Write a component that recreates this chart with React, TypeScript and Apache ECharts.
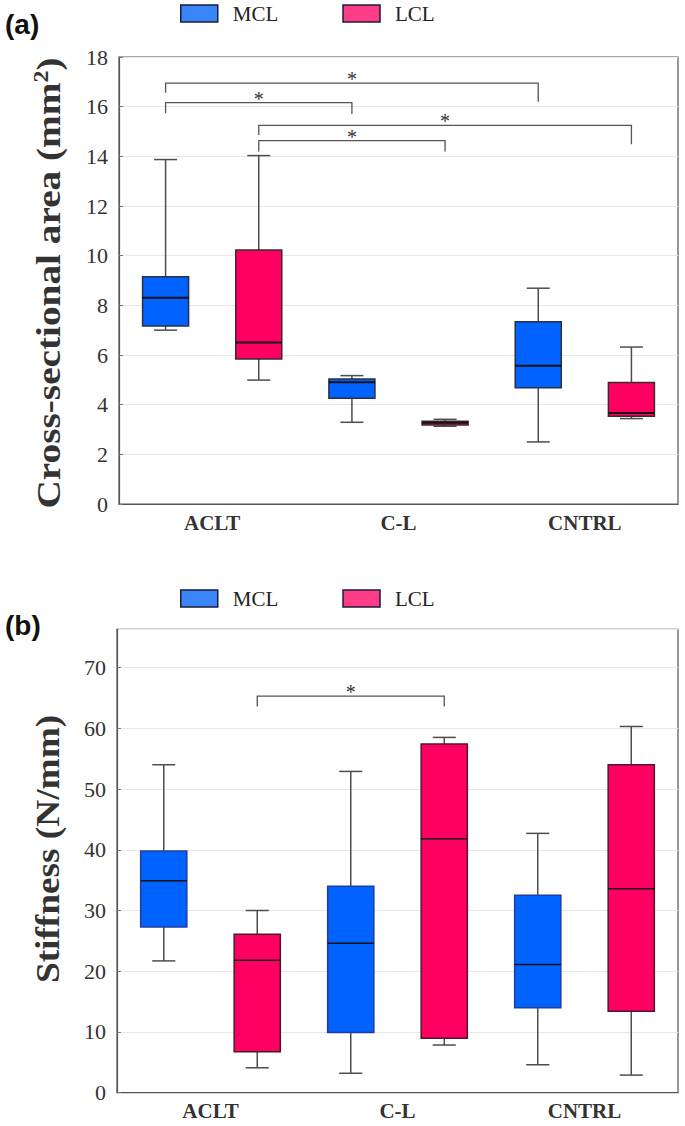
import React, { useEffect, useRef } from "react";
import * as echarts from "echarts";

const categories = ["ACLT", "C-L", "CNTRL"];
// [min, Q1, median, Q3, max]
const csaMCL = [
  [7.0, 7.17, 8.31, 9.15, 13.87],
  [3.29, 4.26, 4.9, 5.03, 5.17],
  [2.5, 4.68, 5.57, 7.34, 8.69],
];
const csaLCL = [
  [4.99, 5.84, 6.5, 10.23, 14.03],
  [3.13, 3.18, 3.27, 3.33, 3.41],
  [3.44, 3.53, 3.66, 4.89, 6.32],
];
const stiffMCL = [
  [21.7, 27.3, 34.9, 39.8, 54.0],
  [3.2, 9.9, 24.6, 34.0, 52.9],
  [4.6, 14.0, 21.1, 32.5, 42.7],
];
const stiffLCL = [
  [4.1, 6.75, 21.8, 26.1, 30.0],
  [7.85, 8.95, 41.8, 57.4, 58.5],
  [2.9, 13.4, 33.6, 54.0, 60.3],
];
// [fromCategory, fromSide(-1 MCL / 1 LCL), toCategory, toSide, lineY, leftLegEndY, rightLegEndY]
const csaBrackets = [
  [0, -1, 2, -1, 16.95, 16.56, 16.2],
  [0, -1, 1, -1, 16.16, 15.73, 15.7],
  [0, 1, 2, 1, 15.25, 14.86, 14.49],
  [0, 1, 1, 1, 14.63, 14.19, 14.19],
];
const stiffBrackets = [[0, 1, 1, 1, 65.3, 63.6, 63.6]];

const csaTicks = { min: 0, max: 18, interval: 2 };
const stiffTicks = { min: 0, max: 76.3, interval: 10 };

const csaTitle = "{a|Cross-sectional area (mm}{s|2}{a|)}";
const stiffTitle = "Stiffness (N/mm)";

const SERIF = "Liberation Serif";
const MCL_FILL = "#0062ff";
const LCL_FILL = "#ff0062";

function boxRender(side: number, stroke: string, medianWidth: number) {
  return (params: any, api: any) => {
    const cat = api.value(0);
    const band = api.size([1, 0])[0];
    const cx = api.coord([cat, 0])[0] + side * band * 0.25;
    const w = band * 0.247;
    const yMin = api.coord([cat, api.value(1)])[1];
    const yQ1 = api.coord([cat, api.value(2)])[1];
    const yMed = api.coord([cat, api.value(3)])[1];
    const yQ3 = api.coord([cat, api.value(4)])[1];
    const yMax = api.coord([cat, api.value(5)])[1];
    const fill = api.visual("color");
    const ws = { stroke: "#4d4d4d", lineWidth: 1.5 };
    return {
      type: "group",
      children: [
        { type: "line", shape: { x1: cx, y1: yMax, x2: cx, y2: yQ3 }, style: ws },
        { type: "line", shape: { x1: cx, y1: yMin, x2: cx, y2: yQ1 }, style: ws },
        { type: "line", shape: { x1: cx - w / 4, y1: yMax, x2: cx + w / 4, y2: yMax }, style: ws },
        { type: "line", shape: { x1: cx - w / 4, y1: yMin, x2: cx + w / 4, y2: yMin }, style: ws },
        {
          type: "rect",
          shape: { x: cx - w / 2, y: yQ3, width: w, height: yQ1 - yQ3 },
          style: { fill, stroke, lineWidth: 1.5 },
        },
        {
          type: "line",
          shape: { x1: cx - w / 2, y1: yMed, x2: cx + w / 2, y2: yMed },
          style: { stroke: "#111", lineWidth: medianWidth },
        },
      ],
    };
  };
}

function bracketRender(params: any, api: any) {
  const band = api.size([1, 0])[0];
  const x1 = api.coord([api.value(0), 0])[0] + api.value(1) * band * 0.25;
  const x2 = api.coord([api.value(2), 0])[0] + api.value(3) * band * 0.25;
  const yh = api.coord([0, api.value(4)])[1];
  const yl = api.coord([0, api.value(5)])[1];
  const yr = api.coord([0, api.value(6)])[1];
  return {
    type: "group",
    children: [
      {
        type: "polyline",
        shape: { points: [[x1, yl], [x1, yh], [x2, yh], [x2, yr]] },
        style: { stroke: "#555", lineWidth: 1.3, fill: "none" },
      },
      {
        type: "text",
        x: (x1 + x2) / 2,
        y: yh + 6,
        style: {
          text: "*",
          fontFamily: SERIF,
          fontSize: 20,
          fill: "#333",
          align: "center",
          verticalAlign: "bottom",
        },
      },
    ],
  };
}

function toItems(arr: number[][]) {
  return arr.map((v, i) => [i, ...v]);
}

export default function App() {
  const ref = useRef<HTMLDivElement>(null);
  useEffect(() => {
    document.body.style.margin = "0";
    if (!ref.current) return;
    const chart = echarts.init(ref.current, null, { renderer: "svg" });

    const legendData = [
      { name: "MCL", itemStyle: { color: "#3a86f8", borderColor: "#1b1b3a", borderWidth: 1.5 } },
      { name: "LCL", itemStyle: { color: "#ff3d87", borderColor: "#1b1b3a", borderWidth: 1.5 } },
    ];
    const legendBase = {
      left: 180,
      padding: 0,
      itemWidth: 37,
      itemHeight: 17,
      itemGap: 64,
      icon: "rect",
      textStyle: { fontFamily: SERIF, fontSize: 21, color: "#222", padding: [0, 0, 0, 10] },
      data: legendData,
    };
    const catAxis = (gridIndex: number, margin: number) => ({
      type: "category",
      gridIndex,
      data: categories,
      axisLine: { lineStyle: { color: "#555", width: 1.2 } },
      axisTick: { show: false },
      axisLabel: {
        fontFamily: SERIF,
        fontWeight: "bold",
        fontSize: 21,
        color: "#333",
        margin,
      },
      splitLine: { show: false },
    });
    const valAxis = (gridIndex: number, t: any, showMax: boolean) => ({
      type: "value",
      gridIndex,
      min: t.min,
      max: t.max,
      interval: t.interval,
      axisLine: { show: true, lineStyle: { color: "#555", width: 1.2 } },
      axisTick: { show: true, inside: true, length: 4, lineStyle: { color: "#777" } },
      axisLabel: {
        fontFamily: SERIF,
        fontSize: 22,
        color: "#333",
        margin: 11,
        showMaxLabel: showMax,
      },
      splitLine: { lineStyle: { color: "#e8e8e8", width: 1 } },
    });
    const titleStyle = { fontFamily: SERIF, fontWeight: "bold", fontSize: 33, fill: "#333" };

    const option: any = {
      animation: false,
      backgroundColor: "#ffffff",
      legend: [
        { ...legendBase, top: 3 },
        { ...legendBase, top: 588 },
      ],
      grid: [
        { left: 119, top: 57, width: 559, height: 447, show: true, borderColor: "#555", borderWidth: 1.2, backgroundColor: "transparent" },
        { left: 117, top: 629.3, width: 561, height: 463.4, show: true, borderColor: "#555", borderWidth: 1.2, backgroundColor: "transparent" },
      ],
      xAxis: [catAxis(0, 8), catAxis(1, 8)],
      yAxis: [valAxis(0, csaTicks, true), valAxis(1, stiffTicks, false)],
      graphic: [
        { type: "text", left: 5, top: 10, style: { text: "(a)", fontFamily: "Liberation Sans", fontWeight: "bold", fontSize: 28, fill: "#111" } },
        { type: "text", left: 5, top: 611, style: { text: "(b)", fontFamily: "Liberation Sans", fontWeight: "bold", fontSize: 28, fill: "#111" } },
        {
          type: "text",
          x: 49,
          y: 283,
          rotation: Math.PI / 2,
          scaleX: 1.19,
          style: {
            ...titleStyle,
            text: csaTitle,
            align: "center",
            verticalAlign: "middle",
            rich: {
              a: { ...titleStyle },
              s: { ...titleStyle, fontSize: 20, padding: [0, 0, 15, 0] },
            },
          },
        },
        {
          type: "text",
          x: 48,
          y: 849,
          rotation: Math.PI / 2,
          scaleX: 1.13,
          style: { ...titleStyle, text: stiffTitle, align: "center", verticalAlign: "middle" },
        },
      ],
      series: [
        {
          name: "MCL", type: "custom", xAxisIndex: 0, yAxisIndex: 0,
          itemStyle: { color: MCL_FILL },
          renderItem: boxRender(-1, "#2a2f45", 2), data: toItems(csaMCL),
        },
        {
          name: "LCL", type: "custom", xAxisIndex: 0, yAxisIndex: 0,
          itemStyle: { color: LCL_FILL },
          renderItem: boxRender(1, "#3a2a30", 2), data: toItems(csaLCL),
        },
        {
          name: "MCL", type: "custom", xAxisIndex: 1, yAxisIndex: 1,
          itemStyle: { color: MCL_FILL },
          renderItem: boxRender(-1, "#1f3fa0", 1.5), data: toItems(stiffMCL),
        },
        {
          name: "LCL", type: "custom", xAxisIndex: 1, yAxisIndex: 1,
          itemStyle: { color: LCL_FILL },
          renderItem: boxRender(1, "#4a1a28", 1.5), data: toItems(stiffLCL),
        },
        {
          name: "sig-a", type: "custom", xAxisIndex: 0, yAxisIndex: 0,
          renderItem: bracketRender, data: csaBrackets, silent: true,
        },
        {
          name: "sig-b", type: "custom", xAxisIndex: 1, yAxisIndex: 1,
          renderItem: bracketRender, data: stiffBrackets, silent: true,
        },
      ],
    };
    chart.setOption(option);
    return () => chart.dispose();
  }, []);
  return <div ref={ref} style={{ width: 685, height: 1126 }} />;
}
